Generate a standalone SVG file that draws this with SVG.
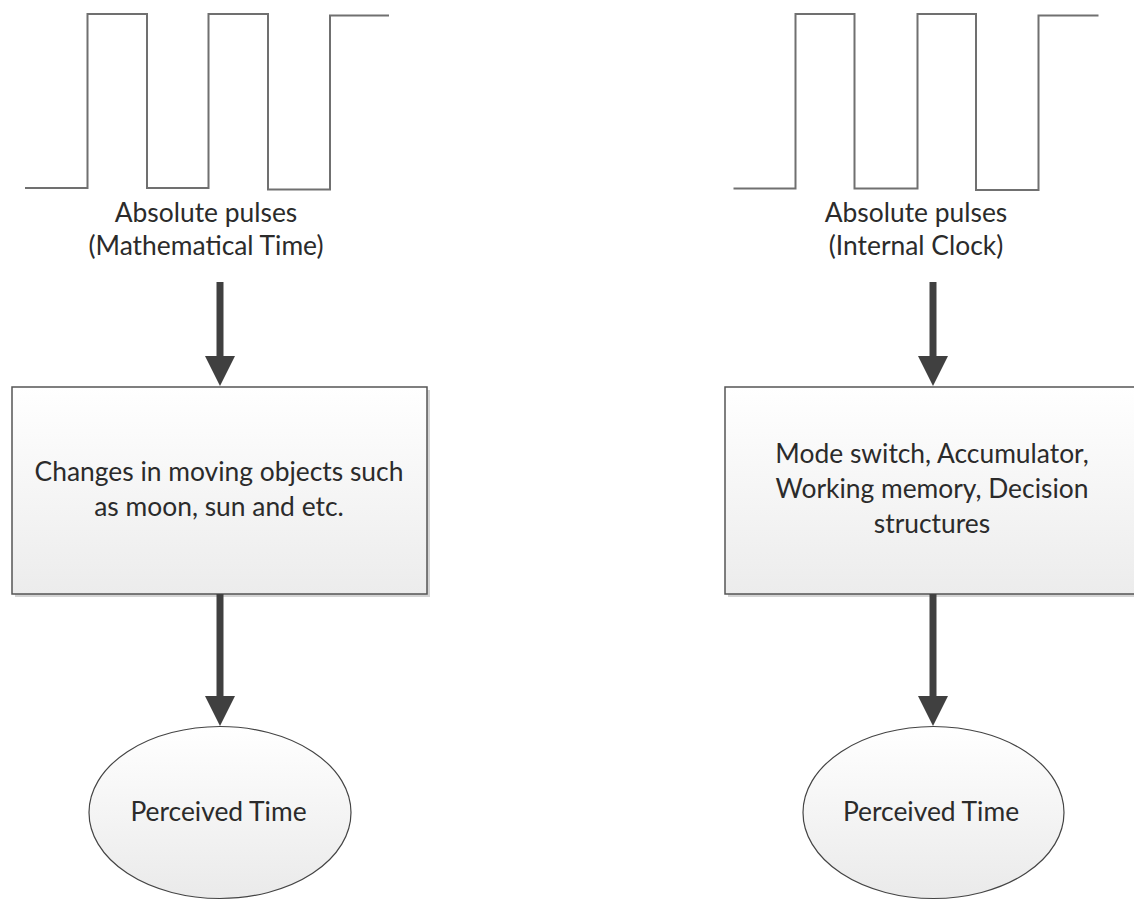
<svg xmlns="http://www.w3.org/2000/svg" width="1134" height="900" viewBox="0 0 1134 900">
  <style>
    .pulse { fill: none; stroke: #707070; stroke-width: 2; stroke-linejoin: miter; }
    .lbl { font-family: Lato, "Liberation Sans", sans-serif; font-size: 26.4px; fill: #2b2b2b; text-anchor: middle; }
    .box { stroke: #555555; stroke-width: 1.5; fill: url(#gradBox); }
    .shadow { fill: #d4d4d4; }
    .ell { stroke: #444444; stroke-width: 1.2; fill: url(#gradEll); }
    .conn { stroke: #404040; stroke-width: 7; fill: none; marker-end: url(#arrow); }
  </style>
  <defs>
    <linearGradient id="gradBox" x1="0" y1="0" x2="0" y2="1">
      <stop offset="0" stop-color="#ffffff"/>
      <stop offset="1" stop-color="#ececec"/>
    </linearGradient>
    <linearGradient id="gradEll" x1="0" y1="0" x2="0" y2="1">
      <stop offset="0" stop-color="#ffffff"/>
      <stop offset="1" stop-color="#eaeaea"/>
    </linearGradient>
    <marker id="arrow" viewBox="0 0 30 30" refX="20" refY="15" markerWidth="30" markerHeight="30" markerUnits="userSpaceOnUse" orient="auto">
      <path d="M0,0 L30,15 L0,30 z" fill="#404040"/>
    </marker>
  </defs>

  <g id="pulses-left">
    <polyline class="pulse" points="25,188 87.5,188 87.5,14 147,14 147,188 208.5,188 208.5,14 268,14 268,189.5 330,189.5 330,15.5 389,15.5"/>
    <text class="lbl" x="206" y="222">Absolute pulses</text>
    <text class="lbl" x="206" y="255">(Mathematical Time)</text>
  </g>

  <g id="pulses-right">
    <polyline class="pulse" points="733.5,188.5 795.5,188.5 795.5,14 854.5,14 854.5,188.5 917.5,188.5 917.5,14 976,14 976,190 1038.5,190 1038.5,15.5 1098.5,15.5"/>
    <text class="lbl" x="916" y="222">Absolute pulses</text>
    <text class="lbl" x="916" y="255">(Internal Clock)</text>
  </g>

  <g id="box-left">
    <rect class="shadow" x="15" y="390" width="415" height="207"/>
    <rect class="box" x="12" y="387" width="415" height="207"/>
    <text class="lbl" x="219" y="481">Changes in moving objects such</text>
    <text class="lbl" x="219" y="516">as moon, sun and etc.</text>
  </g>

  <g id="box-right">
    <rect class="shadow" x="728" y="390" width="415" height="207"/>
    <rect class="box" x="725" y="387" width="415" height="207"/>
    <text class="lbl" x="932" y="463">Mode switch, Accumulator,</text>
    <text class="lbl" x="932" y="498">Working memory, Decision</text>
    <text class="lbl" x="932" y="533">structures</text>
  </g>

  <g id="ellipse-left">
    <ellipse class="ell" cx="220" cy="812.5" rx="131" ry="86"/>
    <text class="lbl" x="218.5" y="821">Perceived Time</text>
  </g>

  <g id="ellipse-right">
    <ellipse class="ell" cx="933.5" cy="812.5" rx="130.5" ry="86"/>
    <text class="lbl" x="931" y="821">Perceived Time</text>
  </g>

  <g id="connectors">
    <line class="conn" x1="220" y1="282" x2="220" y2="376"/>
    <line class="conn" x1="220" y1="594" x2="220" y2="716"/>
    <line class="conn" x1="933" y1="282" x2="933" y2="376"/>
    <line class="conn" x1="933" y1="594" x2="933" y2="716"/>
  </g>
</svg>
